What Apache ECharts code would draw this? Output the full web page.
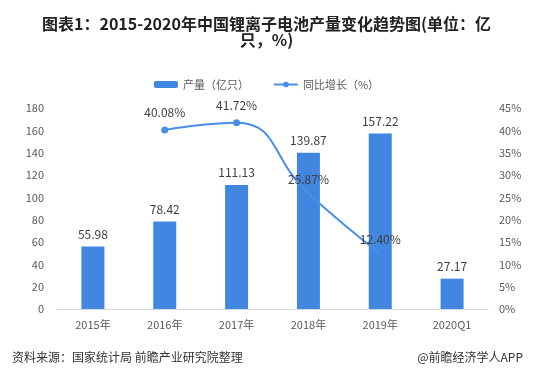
<!DOCTYPE html>
<html>
<head>
<meta charset="utf-8">
<script src="https://cdn.jsdelivr.net/npm/echarts@6/dist/echarts.min.js"></script>
<style>
  html, body { margin: 0; padding: 0; background: #fff; }
  #chart { width: 533px; height: 375px; }
</style>
</head>
<body>
<div id="chart"></div>
<script>
const categories = ['2015年', '2016年', '2017年', '2018年', '2019年', '2020Q1']
const output = [55.98, 78.42, 111.13, 139.87, 157.22, 27.17]
const growth = [null, 40.08, 41.72, 25.87, 12.40, null]
const hideMarker = [false, false, false, true, true, false]

const font = '"Microsoft YaHei", "Noto Sans CJK SC", sans-serif'
const chart = echarts.init(document.getElementById('chart'))

chart.setOption({
  textStyle: { fontFamily: font },
  title: [{
    text: '图表1：2015-2020年中国锂离子电池产量变化趋势图(单位：亿\n只，%)',
    left: 'center',
    top: 11,
    textStyle: { fontSize: 16, fontWeight: 'bold', color: '#222', lineHeight: 16, fontFamily: font }
  }, {
    text: '资料来源：国家统计局 前瞻产业研究院整理',
    left: 7,
    top: 346,
    textStyle: { fontSize: 12, fontWeight: 'normal', color: '#333', fontFamily: font }
  }, {
    text: '@前瞻经济学人APP',
    right: 5,
    top: 346,
    textStyle: { fontSize: 12, fontWeight: 'normal', color: '#333', fontFamily: font }
  }],
  legend: {
    top: 74,
    left: 'center',
    itemGap: 24,
    itemWidth: 24,
    itemHeight: 7,
    textStyle: { fontSize: 11, color: '#595959' },
    data: ['产量（亿只）', '同比增长（%）']
  },
  grid: { left: 57, right: 45, top: 108, bottom: 66 },
  xAxis: {
    type: 'category',
    data: categories,
    axisLine: { lineStyle: { color: '#d9d9d9' } },
    axisTick: { show: false },
    axisLabel: { color: '#595959', fontSize: 11, margin: 10 }
  },
  yAxis: [{
    type: 'value',
    min: 0,
    max: 180,
    interval: 20,
    splitLine: { show: false },
    axisLine: { show: false },
    axisTick: { show: false },
    axisLabel: { color: '#595959', fontSize: 11, margin: 13 }
  }, {
    type: 'value',
    min: 0,
    max: 45,
    interval: 5,
    splitLine: { show: false },
    axisLine: { show: false },
    axisTick: { show: false },
    axisLabel: { color: '#595959', fontSize: 11, margin: 11, formatter: '{value}%' }
  }],
  series: [{
    name: '产量（亿只）',
    type: 'bar',
    barWidth: 23,
    data: output,
    itemStyle: { color: '#4186e0' },
    label: { show: true, position: 'top', distance: 6, color: '#404040', fontSize: 12 }
  }, {
    name: '同比增长（%）',
    type: 'line',
    yAxisIndex: 1,
    smooth: true,
    symbol: 'circle',
    symbolSize: 7,
    data: growth.map((v, i) => hideMarker[i] ? { value: v, symbolSize: 0 } : v),
    lineStyle: { color: '#4a8fe7', width: 2 },
    itemStyle: { color: '#4a8fe7' },
    label: {
      show: true,
      position: 'top',
      distance: 8,
      color: '#404040',
      fontSize: 12,
      formatter: p => p.value == null ? '' : p.value.toFixed(2) + '%'
    }
  }]
})
</script>
</body>
</html>
